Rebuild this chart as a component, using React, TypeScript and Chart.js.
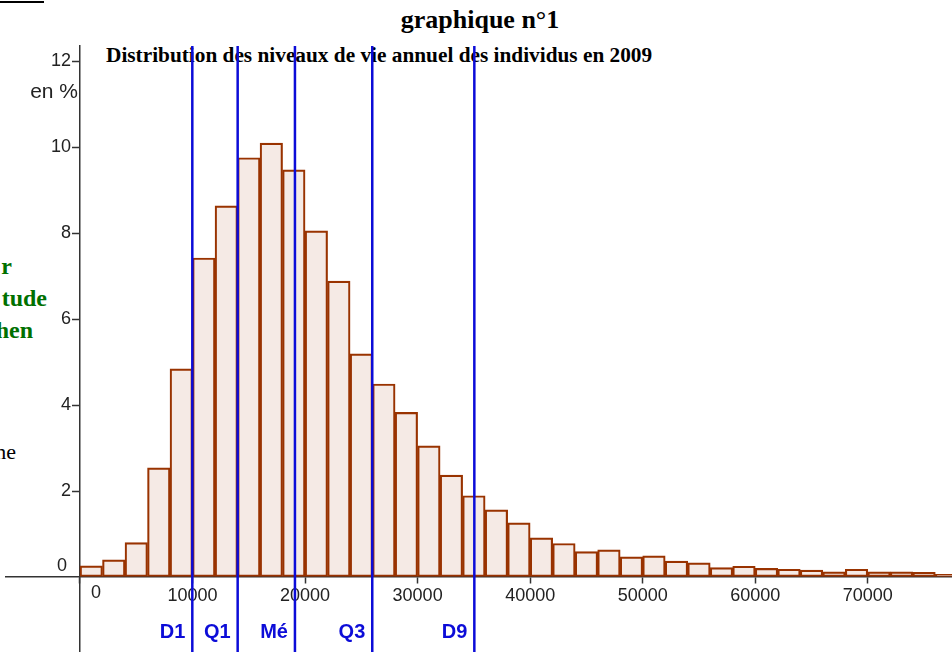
import React, { useEffect, useRef } from 'react';
import { Chart, registerables } from 'chart.js';

Chart.register(...registerables);

// ---- data ----
const classStarts = [
  0, 2000, 4000, 6000, 8000, 10000, 12000, 14000, 16000, 18000,
  20000, 22000, 24000, 26000, 28000, 30000, 32000, 34000, 36000, 38000,
  40000, 42000, 44000, 46000, 48000, 50000, 52000, 54000, 56000, 58000,
  60000, 62000, 64000, 66000, 68000, 70000, 72000, 74000, 76000,
];
const classWidth = 2000;
const shares = [
  0.26, 0.40, 0.80, 2.54, 4.84, 7.42, 8.63, 9.75, 10.09, 9.47,
  8.05, 6.88, 5.19, 4.49, 3.83, 3.05, 2.37, 1.89, 1.56, 1.26,
  0.91, 0.78, 0.59, 0.63, 0.47, 0.49, 0.37, 0.33, 0.22, 0.25,
  0.20, 0.18, 0.16, 0.12, 0.18, 0.12, 0.12, 0.11, 0.06,
];
const quantileNames = ['D1', 'Q1', 'Mé', 'Q3', 'D9'];
const quantileValues = [9980, 14010, 19100, 25970, 35040];
const xTickValues = [0, 10000, 20000, 30000, 40000, 50000, 60000, 70000];
const yTickValues = [0, 2, 4, 6, 8, 10, 12];
const titleText = 'graphique n°1';
const subtitleText = 'Distribution des niveaux de vie annuel des individus en 2009';
const yAxisUnit = 'en %';
const sideFragmentsGreen = ['r', 'tude', 'hen'];
const sideFragmentBlack = 'ne';

// ---- view window ----
const X_MIN = -6575;
const X_MAX = 77484;
const Y_MIN = -1.744;
const Y_MAX = 12.35;

const AXIS_COLOR = '#333333';
const TEXT_COLOR = '#222222';
const BAR_BORDER = '#993300';
const BAR_FILL = 'rgba(153,51,0,0.1)';
const QUANT_COLOR = '#0c0cd8';
const TICK_FONT = { family: 'Liberation Sans', size: 18 };

const extrasPlugin = {
  id: 'extras',
  afterDraw(chart: any) {
    const { ctx, chartArea, scales } = chart;
    const xs = scales.x;
    const ys = scales.y;
    const x0 = xs.getPixelForValue(0);
    const y0 = ys.getPixelForValue(0);
    ctx.save();
    ctx.font = '18px "Liberation Sans"';
    ctx.fillStyle = TEXT_COLOR;
    ctx.textAlign = 'center';
    ctx.textBaseline = 'middle';
    ctx.fillText('0', x0 + 16, y0 + 16);
    ctx.fillText('0', x0 - 18, y0 - 11);
    ctx.font = '21px "Liberation Sans"';
    ctx.textAlign = 'right';
    ctx.fillText(yAxisUnit, x0 - 2, ys.getPixelForValue(12) + 31);
    ctx.font = 'bold 20px "Liberation Sans"';
    ctx.fillStyle = QUANT_COLOR;
    quantileValues.forEach((q, i) => {
      ctx.fillText(quantileNames[i], xs.getPixelForValue(q) - 7, chartArea.bottom - 20);
    });
    ctx.restore();
  },
};

const zeroPadding = (s: any) => {
  s.paddingTop = 0;
  s.paddingBottom = 0;
  s.paddingLeft = 0;
  s.paddingRight = 0;
};

export default function App() {
  const canvasRef = useRef<HTMLCanvasElement | null>(null);

  useEffect(() => {
    if (!canvasRef.current) return;
    const barData = classStarts.map((s, i) => ({ x: s + classWidth / 2, y: shares[i] }));
    const lineSets = quantileValues.map((q, i) => ({
      type: 'line' as const,
      label: quantileNames[i],
      data: [
        { x: q, y: Y_MIN },
        { x: q, y: Y_MAX },
      ],
      borderColor: QUANT_COLOR,
      borderWidth: 2.5,
      pointRadius: 0,
      fill: false,
      order: 0,
    }));
    const chart = new Chart(canvasRef.current, {
      type: 'bar',
      data: {
        datasets: [
          ...lineSets,
          {
            type: 'bar' as const,
            label: 'niveaux de vie',
            data: barData,
            backgroundColor: BAR_FILL,
            borderColor: BAR_BORDER,
            borderWidth: 1.5,
            borderSkipped: false,
            barPercentage: 1,
            categoryPercentage: 1,
            grouped: false,
            order: 1,
          } as any,
        ],
      },
      options: {
        responsive: false,
        animation: false,
        layout: { padding: { top: 46, left: 6, right: 0, bottom: 0 } },
        plugins: { legend: { display: false }, tooltip: { enabled: false }, title: { display: false } },
        scales: {
          x: {
            type: 'linear',
            min: X_MIN,
            max: X_MAX,
            offset: false,
            position: { y: 0 } as any,
            grid: { drawOnChartArea: false, drawTicks: true, tickLength: 6, tickColor: AXIS_COLOR, tickWidth: 1.5, offset: false },
            border: { display: true, color: AXIS_COLOR, width: 1.5 },
            ticks: {
              autoSkip: false,
              maxRotation: 0,
              padding: 2,
              color: TEXT_COLOR,
              font: TICK_FONT,
              callback: (v: any) => (Number(v) === 0 ? '' : String(v)),
            },
            afterBuildTicks: (s: any) => {
              s.ticks = xTickValues.map((v) => ({ value: v }));
            },
            afterFit: zeroPadding,
          },
          y: {
            type: 'linear',
            min: Y_MIN,
            max: Y_MAX,
            position: { x: 0 } as any,
            grid: {
              drawOnChartArea: false, drawTicks: true, tickLength: 7, tickWidth: 1.5,
              tickColor: (c: any) => (c.tick && c.tick.value === 0 ? 'rgba(0,0,0,0)' : AXIS_COLOR),
            },
            border: { display: true, color: AXIS_COLOR, width: 1.5 },
            ticks: {
              autoSkip: false,
              padding: 2,
              color: TEXT_COLOR,
              font: TICK_FONT,
              callback: (v: any) => (Number(v) > 0 ? String(v) + '\u2002' : ''),
            },
            afterBuildTicks: (s: any) => {
              s.ticks = yTickValues.map((v) => ({ value: v }));
            },
            afterFit: zeroPadding,
          },
        },
      } as any,
      plugins: [extrasPlugin],
    });
    return () => chart.destroy();
  }, []);

  return (
    <div style={{ position: 'fixed', left: 0, top: 0, width: 952, height: 652, overflow: 'hidden', background: '#fff' }}>
      <div style={{ position: 'absolute', left: 0, top: 1, width: 44, height: 2, background: '#000' }} />
      <div
        style={{
          position: 'absolute', left: 330, width: 300, top: 7, textAlign: 'center',
          font: 'bold 26px "Liberation Serif"', lineHeight: '26px', color: '#000', whiteSpace: 'nowrap',
        }}
      >
        {titleText}
      </div>
      <div
        style={{
          position: 'absolute', left: 106, top: 45,
          font: 'bold 21.3px "Liberation Serif"', lineHeight: '21.3px', color: '#000', whiteSpace: 'nowrap',
        }}
      >
        {subtitleText}
      </div>
      {sideFragmentsGreen.map((t, i) => (
        <div
          key={t}
          style={{
            position: 'absolute', right: 952 - [12, 47, 33][i], top: [254, 286, 318][i],
            font: 'bold 24px "Liberation Serif"', lineHeight: '24px', color: '#007000', whiteSpace: 'nowrap',
          }}
        >
          {t}
        </div>
      ))}
      <div
        style={{
          position: 'absolute', right: 952 - 16, top: 441,
          font: '22px "Liberation Serif"', lineHeight: '22px', color: '#000', whiteSpace: 'nowrap',
        }}
      >
        {sideFragmentBlack}
      </div>
      <canvas ref={canvasRef} width={952} height={652} style={{ position: 'absolute', left: 0, top: 0 }} />
    </div>
  );
}
